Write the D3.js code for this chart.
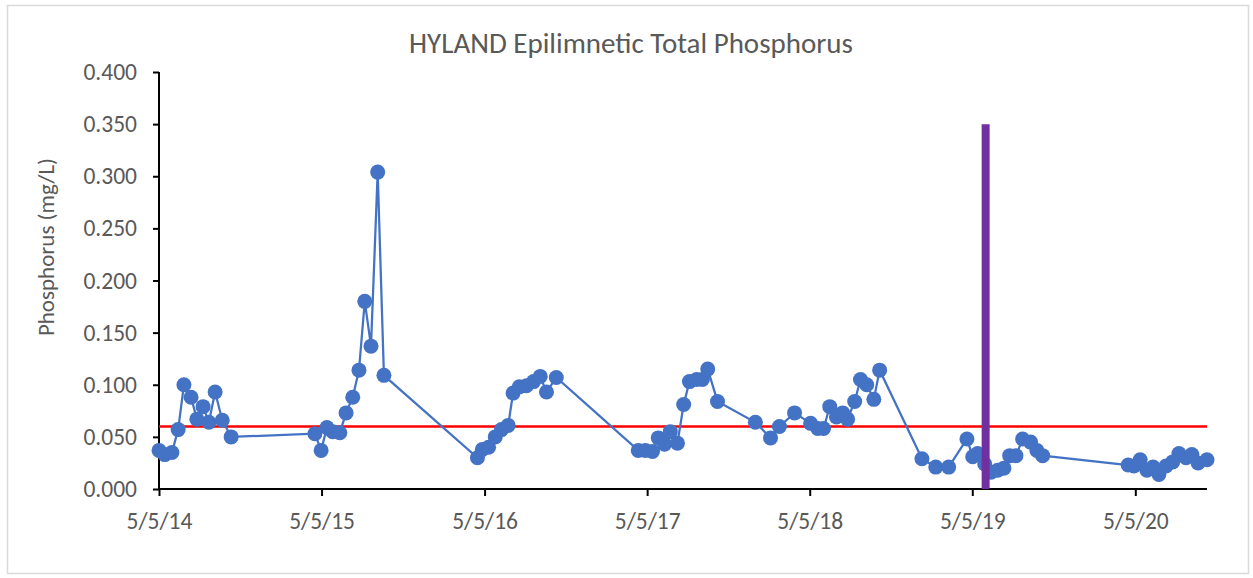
<!DOCTYPE html>
<html>
<head>
<meta charset="utf-8">
<script src="https://cdn.jsdelivr.net/npm/d3@7"></script>
<style>
  body { margin: 0; background: #fff; }
  svg { display: block; }
  text { font-family: Carlito, Calibri, "Open Sans", sans-serif; fill: #595959; }
</style>
</head>
<body>
<svg></svg>
<script>
// sample dates (m/d/yy) and total phosphorus (mg/L)
var sampleDates = [
    "5/5/14", "5/18/14", "6/3/14", "6/17/14", "6/30/14", "7/16/14", "7/29/14", "8/12/14", "8/25/14", "9/8/14", "9/24/14", "10/14/14",
    "4/20/15", "5/4/15", "5/17/15", "5/30/15", "6/15/15", "6/29/15", "7/14/15", "7/28/15", "8/10/15", "8/24/15", "9/8/15", "9/22/15",
    "4/19/16", "4/30/16", "5/14/16", "5/29/16", "6/12/16", "6/27/16", "7/8/16", "7/22/16", "8/7/16", "8/23/16", "9/7/16", "9/21/16", "10/13/16",
    "4/15/17", "5/1/17", "5/17/17", "5/30/17", "6/13/17", "6/26/17", "7/12/17", "7/26/17", "8/8/17", "8/24/17", "9/6/17", "9/18/17", "10/10/17",
    "1/3/18", "2/6/18", "2/26/18", "4/1/18", "5/7/18", "5/23/18", "6/5/18", "6/19/18", "7/4/18", "7/18/18", "7/29/18", "8/14/18", "8/27/18", "9/10/18", "9/26/18", "10/9/18",
    "1/12/19", "2/12/19", "3/13/19", "4/23/19", "5/6/19", "5/17/19", "6/2/19", "6/16/19", "7/1/19", "7/15/19", "7/28/19", "8/11/19", "8/26/19", "9/13/19", "9/27/19", "10/10/19",
    "4/19/20", "5/2/20", "5/16/20", "5/31/20", "6/14/20", "6/27/20", "7/13/20", "7/28/20", "8/11/20", "8/27/20", "9/9/20", "9/23/20", "10/13/20"
];
var phosphorus = [
    0.037, 0.033, 0.035, 0.057, 0.100, 0.088, 0.067, 0.079, 0.064, 0.093, 0.066, 0.050,
    0.053, 0.037, 0.059, 0.055, 0.054, 0.073, 0.088, 0.114, 0.180, 0.137, 0.304, 0.109,
    0.030, 0.038, 0.040, 0.050, 0.057, 0.061, 0.092, 0.098, 0.099, 0.103, 0.108, 0.093, 0.107,
    0.037, 0.037, 0.036, 0.049, 0.043, 0.055, 0.044, 0.081, 0.103, 0.105, 0.105, 0.115, 0.084,
    0.064, 0.049, 0.060, 0.073, 0.063, 0.058, 0.058, 0.079, 0.069, 0.073, 0.067, 0.084, 0.105, 0.100, 0.086, 0.114,
    0.029, 0.021, 0.021, 0.048, 0.031, 0.034, 0.024, 0.016, 0.018, 0.020, 0.032, 0.032, 0.048, 0.045, 0.037, 0.032,
    0.023, 0.022, 0.028, 0.018, 0.021, 0.014, 0.022, 0.026, 0.034, 0.030, 0.033, 0.025, 0.028
];
var xTickLabels = ["5/5/14", "5/5/15", "5/5/16", "5/5/17", "5/5/18", "5/5/19", "5/5/20"];
var yTicks = [0, 0.05, 0.1, 0.15, 0.2, 0.25, 0.3, 0.35, 0.4];
var threshold = 0.060;            // red reference line
var markerDate = "6/4/19";        // purple vertical marker
var markerTop = 0.350;

var parse = d3.timeParse("%-m/%-d/%y");
var data = sampleDates.map(function (d, i) {
    return { date: parse(d), value: phosphorus[i] };
});

var svgWidth = 1253, svgHeight = 578;
var plotLeft = 159, plotRight = 1207, plotTop = 72, plotBottom = 489;

var svg = d3.select('svg')
    .attr("width", svgWidth)
    .attr("height", svgHeight);

// chart border
svg.append("rect")
    .attr("x", 7.5).attr("y", 5.5)
    .attr("width", 1241).attr("height", 568)
    .attr("fill", "none")
    .attr("stroke", "#d9d9d9")
    .attr("stroke-width", 1.5);

var x = d3.scaleTime()
    .domain([parse("5/5/14"), d3.max(data, function (d) { return d.date; })])
    .range([plotLeft, plotRight]);

var y = d3.scaleLinear()
    .domain([0, 0.4])
    .range([plotBottom, plotTop]);

svg.append("text")
    .attr("x", 631).attr("y", 53)
    .attr("text-anchor", "middle")
    .style("font-size", "29px")
    .text("HYLAND Epilimnetic Total Phosphorus");

svg.append("text")
    .attr("transform", "translate(54,247) rotate(-90)")
    .attr("text-anchor", "middle")
    .style("font-size", "23px")
    .text("Phosphorus (mg/L)");

// axes
var yAxis = svg.append("g")
    .attr("transform", "translate(" + plotLeft + ",0)")
    .call(d3.axisLeft(y).tickValues(yTicks).tickFormat(d3.format(".3f")).tickSize(6).tickPadding(16));

var xAxis = svg.append("g")
    .attr("transform", "translate(0," + plotBottom + ")")
    .call(d3.axisBottom(x).tickValues(xTickLabels.map(parse)).tickFormat(d3.timeFormat("%-m/%-d/%y")).tickSize(7).tickPadding(16));

[yAxis, xAxis].forEach(function (ax) {
    ax.select(".domain").attr("stroke", "#000").attr("stroke-width", 2);
    ax.selectAll(".tick line").attr("stroke", "#000").attr("stroke-width", 2);
    ax.selectAll(".tick text")
        .style("font-family", "Carlito, Calibri, 'Open Sans', sans-serif")
        .style("font-size", "23.5px")
        .attr("fill", "#595959");
});
yAxis.select(".domain").attr("d", "M0," + plotBottom + "V" + plotTop);
xAxis.select(".domain").attr("d", "M" + plotLeft + ",0H" + plotRight);

var line = d3.line()
    .x(function (d) { return x(d.date); })
    .y(function (d) { return y(d.value); });

// threshold line
var xDomain = x.domain();
svg.append("path")
    .datum([{ date: xDomain[0], value: threshold }, { date: xDomain[1], value: threshold }])
    .attr("fill", "none")
    .attr("stroke", "#ff0000")
    .attr("stroke-width", 2.5)
    .attr("d", line);

// series
svg.append("path")
    .datum(data)
    .attr("fill", "none")
    .attr("stroke", "#4472c4")
    .attr("stroke-width", 2.25)
    .attr("d", line);

svg.append("g")
    .selectAll("circle")
    .data(data)
    .enter()
    .append("circle")
    .attr("cx", function (d) { return x(d.date); })
    .attr("cy", function (d) { return y(d.value); })
    .attr("r", 7.5)
    .attr("fill", "#4472c4");

// purple marker line
svg.append("path")
    .datum([{ date: parse(markerDate), value: 0 }, { date: parse(markerDate), value: markerTop }])
    .attr("fill", "none")
    .attr("stroke", "#7030a0")
    .attr("stroke-width", 8)
    .attr("d", line);
</script>
</body>
</html>
